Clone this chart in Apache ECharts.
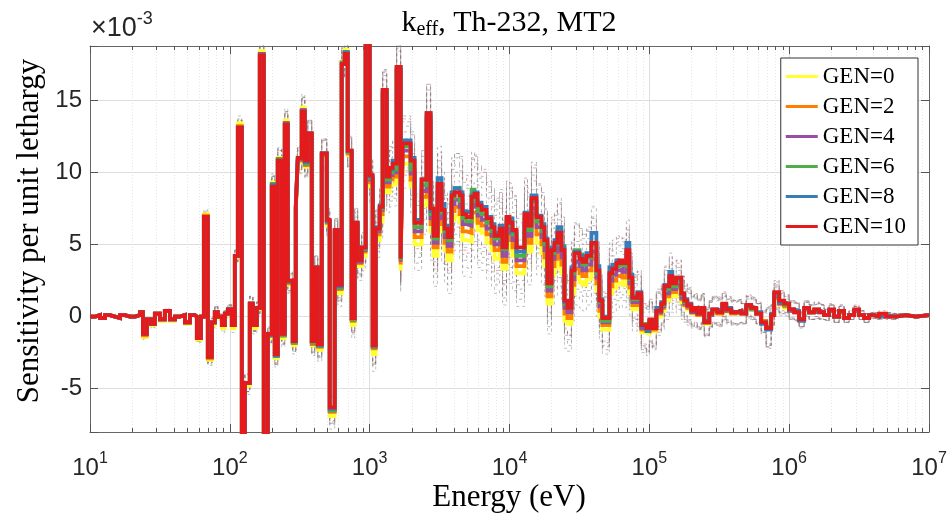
<!DOCTYPE html>
<html>
<head>
<meta charset="utf-8">
<script src="https://cdn.jsdelivr.net/npm/echarts@6/dist/echarts.min.js"></script>
<style>
  html, body { margin: 0; padding: 0; background: #fff; }
  #chart { width: 951px; height: 515px; }
</style>
</head>
<body>
<div id="chart"></div>
<script>
// Energy group boundaries (eV), 200 groups
const energyEdges = [
  10, 10.9, 11.8, 12.8, 13.9, 15.1, 16.4, 17.8, 19.3, 21.0,
  22.8, 23.9, 25.5, 27.3, 29.1, 31.6, 34.3, 37.3, 40.5, 43.9,
  47.7, 51.8, 56.2, 58.1, 62.1, 65.2, 69.6, 74.4, 78.1, 82.1,
  87.7, 92.1, 96.8, 103.3, 108.6, 114.1, 121.8, 128.0, 138.9, 146.0,
  155.9, 163.8, 174.9, 186.8, 199.5, 209.6, 220.2, 235.1, 247.1, 259.6,
  281.8, 296.1, 306.0, 326.8, 343.4, 360.8, 385.3, 404.8, 425.3, 454.2,
  493.2, 517.9, 562.3, 590.8, 631.0, 662.9, 696.4, 743.5, 781.3, 820.9,
  876.6, 936.2, 1000, 1051, 1104, 1179, 1239, 1323, 1389, 1460,
  1559, 1665, 1720, 1963, 2096, 2352, 2554, 2727, 2866, 3060,
  3268, 3434, 3608, 3853, 4048, 4394, 4617, 4932, 5354, 5623,
  5909, 6310, 6849, 7435, 7813, 8483, 8913, 9519, 10000, 10505,
  11220, 12798, 13447, 14360, 15592, 16930, 17783, 18684, 19953, 20961,
  22022, 23513, 24717, 25964, 27730, 29128, 31623, 33219, 35481, 38527,
  41832, 43940, 46163, 51795, 54410, 58113, 61054, 64135, 68489, 71968,
  75612, 82094, 87660, 95195, 1.0e5, 1.0505e5, 1.1220e5, 1.2180e5, 1.2798e5, 1.3895e5,
  1.4598e5, 1.5592e5, 1.6930e5, 1.7783e5, 1.8684e5, 1.9953e5, 2.0961e5, 2.2022e5, 2.3513e5, 2.4717e5,
  2.6827e5, 2.8184e5, 3.0599e5, 3.3219e5, 3.5481e5, 3.8527e5, 4.1832e5, 4.5414e5, 4.9317e5, 5.3538e5,
  5.8113e5, 6.3096e5, 6.8489e5, 7.4350e5, 7.8127e5, 8.4827e5, 9.2101e5, 1.0e6, 1.0857e6, 1.1788e6,
  1.2798e6, 1.3895e6, 1.5087e6, 1.6379e6, 1.7783e6, 1.9307e6, 2.0961e6, 2.2758e6, 2.4717e6, 2.6827e6,
  2.9128e6, 3.1623e6, 3.4334e6, 3.7276e6, 4.0472e6, 4.3940e6, 4.9317e6, 5.8113e6, 6.8489e6, 8.0763e6,
  1.0e7
];

// Sensitivity per unit lethargy per group, in units of 1e-3
const gen0 = [
  0.0, 0.1, -0.1, 0.1, 0.0, -0.1, 0.1, 0.0, 0.0, 0.1,
  0.3, -1.4, -0.3, -0.6, 0.2, -0.3, 0.4, -0.3, 0.0, 0.1,
  -0.5, 0.1, 0.0, -1.6, 0.0, 7.1, -3.0, -0.6, 0.2, -0.1,
  -0.8, 0.1, 0.4, -0.8, 4.1, 13.4, -9.5, -4.8, 0.8, -0.8,
  0.5, 18.4, -9.0, -1.5, 9.3, -2.9, 11.0, -1.5, 13.6, 2.2,
  -2.0, 7.3, 10.7, 14.5, 10.4, 12.5, -2.0, 3.0, -2.3, 11.1,
  6.3, -6.9, 5.6, 1.6, 17.7, 18.5, 11.2, -0.6, 5.9, 3.5,
  4.2, 20.5, 9.0, -2.6, 5.3, 6.6, 15.0, 8.6, 9.1, 9.2,
  16.8, 3.2, 10.6, 9.0, 5.0, 7.7, 13.0, 5.9, 4.2, 7.5,
  5.9, 4.6, 3.9, 6.7, 7.0, 6.5, 5.3, 5.2, 6.6, 6.8,
  6.0, 5.8, 5.1, 4.6, 4.0, 4.4, 3.3, 5.1, 4.7, 4.2,
  3.0, 5.3, 4.5, 6.5, 5.1, 4.4, 3.5, 0.9, 2.9, 3.4,
  4.1, 3.0, -0.3, -0.5, 1.6, 2.7, 2.4, 2.2, 2.6, 3.4,
  1.8, 0.0, -0.9, 1.6, 2.0, 2.3, 2.4, 2.2, 2.9, 1.6,
  0.5, 0.8, -1.1, -1.2, -0.6, -1.0, 0.0, 0.4, 1.1, 1.6,
  1.4, 1.7, 1.0, 0.7, 0.5, 0.2, 0.3, 0.1, 0.3, -0.5,
  0.1, 0.3, 0.2, 0.5, 0.3, 0.2, 0.3, 0.2, 0.5, 0.4,
  0.2, -0.3, -0.6, 0.1, 1.2, 0.8, 0.6, 0.4, 0.3, -0.2,
  0.5, 0.3, 0.4, 0.3, 0.1, 0.4, 0.0, 0.3, -0.1, 0.1,
  0.4, 0.1, -0.1, 0.1, 0.0, 0.1, 0.0, 0.1, 0.0, 0.1
];
const gen2 = [
  0.0, 0.1, -0.1, 0.1, 0.0, -0.1, 0.1, 0.0, 0.0, 0.1,
  0.3, -1.3, -0.2, -0.5, 0.2, -0.2, 0.4, -0.2, 0.0, 0.1,
  -0.4, 0.1, 0.0, -1.5, 0.0, 7.0, -2.9, -0.4, 0.3, 0.0,
  -0.6, 0.2, 0.5, -0.6, 4.2, 13.2, -9.5, -4.6, 0.9, -0.6,
  0.6, 18.2, -9.0, -1.3, 9.1, -2.7, 10.9, -1.3, 13.4, 2.3,
  -1.8, 7.4, 10.8, 14.3, 10.5, 12.6, -1.9, 3.2, -2.1, 11.2,
  6.5, -6.6, 5.8, 1.9, 17.6, 18.3, 11.3, -0.3, 6.2, 3.7,
  4.5, 20.5, 9.3, -2.2, 5.7, 7.1, 15.3, 9.0, 9.5, 9.7,
  17.0, 3.6, 11.1, 9.5, 5.5, 8.3, 13.4, 6.4, 4.8, 8.1,
  6.4, 5.1, 4.5, 7.3, 7.6, 7.1, 5.9, 5.8, 7.2, 7.3,
  6.5, 6.3, 5.7, 5.1, 4.6, 5.0, 3.8, 5.7, 5.3, 4.8,
  3.5, 5.9, 5.1, 7.1, 5.7, 5.0, 4.1, 1.4, 3.5, 4.0,
  4.7, 3.6, 0.2, -0.1, 2.2, 3.3, 3.0, 2.8, 3.2, 4.0,
  2.3, 0.4, -0.6, 2.1, 2.5, 2.8, 2.9, 2.7, 3.4, 2.0,
  0.8, 1.1, -0.9, -1.0, -0.5, -0.9, 0.2, 0.6, 1.4, 2.0,
  1.7, 2.0, 1.2, 0.8, 0.6, 0.3, 0.4, 0.1, 0.4, -0.4,
  0.1, 0.4, 0.2, 0.6, 0.4, 0.2, 0.3, 0.2, 0.6, 0.5,
  0.2, -0.3, -0.7, 0.1, 1.3, 0.9, 0.7, 0.4, 0.3, -0.2,
  0.5, 0.3, 0.4, 0.3, 0.1, 0.4, 0.0, 0.3, -0.1, 0.1,
  0.4, 0.1, -0.1, 0.1, 0.0, 0.1, 0.0, 0.1, 0.0, 0.1
];
const gen4 = [
  0.0, 0.1, -0.1, 0.1, 0.0, -0.1, 0.1, 0.0, 0.0, 0.1,
  0.3, -1.2, -0.2, -0.5, 0.2, -0.2, 0.4, -0.2, 0.0, 0.1,
  -0.4, 0.1, 0.0, -1.5, 0.0, 6.9, -2.8, -0.4, 0.3, 0.0,
  -0.6, 0.2, 0.5, -0.6, 4.2, 13.1, -9.5, -4.6, 0.9, -0.6,
  0.6, 18.2, -9.0, -1.3, 9.1, -2.7, 10.9, -1.3, 13.4, 2.4,
  -1.8, 7.5, 10.9, 14.3, 10.6, 12.7, -1.8, 3.3, -2.0, 11.3,
  6.6, -6.5, 5.9, 2.0, 17.6, 18.3, 11.4, -0.2, 6.3, 3.8,
  4.6, 20.5, 9.5, -2.1, 5.9, 7.4, 15.5, 9.3, 9.8, 10.0,
  17.1, 3.8, 11.5, 9.9, 5.9, 8.7, 13.7, 6.8, 5.1, 8.6,
  6.8, 5.5, 4.9, 7.8, 8.1, 7.6, 6.4, 6.3, 7.6, 7.8,
  7.0, 6.7, 6.1, 5.6, 5.0, 5.4, 4.2, 6.1, 5.8, 5.3,
  3.9, 6.3, 5.6, 7.5, 6.2, 5.5, 4.6, 1.8, 4.0, 4.5,
  5.1, 4.1, 0.6, 0.3, 2.6, 3.8, 3.5, 3.2, 3.6, 4.5,
  2.7, 0.7, -0.4, 2.5, 2.9, 3.2, 3.3, 3.1, 3.9, 2.3,
  1.0, 1.3, -0.8, -0.9, -0.4, -0.8, 0.3, 0.7, 1.6, 2.3,
  1.9, 2.2, 1.3, 0.9, 0.7, 0.3, 0.5, 0.2, 0.5, -0.4,
  0.1, 0.4, 0.3, 0.7, 0.4, 0.3, 0.3, 0.2, 0.7, 0.5,
  0.2, -0.4, -0.8, 0.1, 1.4, 0.9, 0.8, 0.4, 0.3, -0.2,
  0.5, 0.3, 0.4, 0.3, 0.1, 0.4, 0.0, 0.3, -0.1, 0.1,
  0.4, 0.1, -0.1, 0.1, 0.0, 0.1, 0.0, 0.1, 0.0, 0.1
];
const gen6 = [
  0.0, 0.1, -0.1, 0.1, 0.0, -0.1, 0.1, 0.0, 0.0, 0.1,
  0.3, -1.2, -0.2, -0.5, 0.2, -0.2, 0.4, -0.2, 0.0, 0.1,
  -0.4, 0.1, 0.0, -1.5, 0.0, 6.9, -2.8, -0.4, 0.3, 0.0,
  -0.6, 0.2, 0.5, -0.6, 4.2, 13.1, -9.5, -4.6, 0.9, -0.6,
  0.6, 18.1, -9.0, -1.3, 9.2, -2.7, 10.9, -1.3, 13.3, 2.4,
  -1.8, 7.6, 11.0, 14.2, 10.6, 12.6, -1.8, 3.4, -2.0, 11.2,
  6.6, -6.5, 5.9, 2.0, 17.6, 18.3, 11.4, -0.2, 6.4, 3.9,
  4.7, 20.5, 9.6, -2.1, 6.1, 7.5, 15.6, 9.5, 10.0, 10.2,
  17.2, 3.9, 11.8, 10.2, 6.2, 9.1, 13.9, 7.1, 5.4, 9.0,
  7.2, 5.9, 5.3, 8.2, 8.9, 8.0, 6.8, 6.6, 8.8, 8.0,
  7.3, 7.1, 6.5, 5.9, 5.4, 5.7, 4.7, 6.5, 6.3, 5.7,
  4.2, 6.7, 6.0, 8.0, 6.6, 5.9, 5.0, 2.1, 4.4, 5.0,
  5.9, 4.9, 0.9, 0.6, 3.0, 4.6, 4.3, 3.6, 4.1, 5.0,
  3.0, 1.0, -0.3, 2.9, 3.4, 3.5, 3.6, 3.5, 4.4, 2.6,
  1.2, 1.4, -0.5, -0.8, -0.3, -0.6, 0.4, 0.8, 1.9, 2.6,
  2.1, 2.5, 1.5, 1.0, 0.8, 0.4, 0.5, 0.2, 0.5, -0.4,
  0.2, 0.4, 0.3, 0.8, 0.5, 0.3, 0.4, 0.2, 0.7, 0.5,
  0.2, -0.4, -0.7, 0.1, 1.5, 1.0, 0.8, 0.5, 0.3, -0.2,
  0.5, 0.3, 0.5, 0.3, 0.1, 0.4, 0.0, 0.3, -0.1, 0.1,
  0.4, 0.1, -0.1, 0.1, 0.0, 0.1, 0.0, 0.1, 0.0, 0.1
];
const gen8 = [
  0.0, 0.1, -0.1, 0.1, 0.0, -0.1, 0.1, 0.0, 0.0, 0.1,
  0.3, -1.2, -0.2, -0.5, 0.2, -0.2, 0.4, -0.2, 0.0, 0.1,
  -0.4, 0.1, 0.0, -1.5, 0.0, 6.9, -2.8, -0.4, 0.3, 0.0,
  -0.6, 0.2, 0.5, -0.6, 4.2, 13.1, -9.5, -4.6, 0.9, -0.6,
  0.6, 18.1, -9.0, -1.3, 9.1, -2.7, 10.8, -1.2, 13.3, 2.4,
  -1.7, 7.6, 11.0, 14.2, 10.7, 12.7, -1.7, 3.4, -2.0, 11.3,
  6.6, -6.4, 6.0, 2.1, 17.5, 18.3, 11.5, -0.1, 6.5, 4.0,
  4.8, 20.5, 9.7, -2.0, 6.2, 7.7, 15.7, 9.9, 10.2, 10.8,
  17.3, 4.1, 12.2, 11.0, 6.7, 9.5, 14.1, 7.3, 5.9, 9.6,
  7.8, 6.3, 5.7, 8.6, 8.9, 8.6, 7.3, 7.2, 8.4, 8.6,
  7.9, 7.6, 6.9, 6.4, 5.8, 6.3, 5.0, 6.8, 6.8, 5.9,
  4.5, 7.2, 6.6, 8.4, 7.0, 6.4, 5.4, 2.4, 4.8, 5.3,
  6.2, 4.8, 1.0, 0.7, 3.4, 4.5, 4.2, 3.9, 4.4, 5.8,
  3.5, 1.2, 0.0, 3.4, 3.6, 3.9, 3.8, 3.9, 5.1, 2.9,
  1.4, 1.7, -0.7, -1.0, -0.3, -0.7, 0.6, 1.0, 2.2, 3.1,
  2.5, 2.7, 1.6, 1.2, 0.9, 0.5, 0.6, 0.3, 0.6, -0.3,
  0.2, 0.5, 0.4, 0.8, 0.6, 0.3, 0.4, 0.3, 0.7, 0.6,
  0.3, -0.5, -0.9, 0.2, 1.6, 1.0, 0.9, 0.5, 0.4, -0.3,
  0.6, 0.3, 0.4, 0.3, 0.1, 0.4, 0.0, 0.4, -0.1, 0.1,
  0.4, 0.1, -0.1, 0.1, 0.0, 0.1, 0.0, 0.1, 0.0, 0.1
];
const gen10 = [
  0.0, 0.1, -0.1, 0.1, 0.0, -0.1, 0.1, 0.0, 0.0, 0.1,
  0.3, -1.2, -0.2, -0.5, 0.2, -0.2, 0.4, -0.2, 0.0, 0.1,
  -0.4, 0.1, 0.0, -1.5, 0.0, 6.9, -2.8, -0.4, 0.3, 0.0,
  -0.6, 0.2, 0.5, -0.6, 4.2, 13.1, -9.5, -4.6, 0.9, -0.6,
  0.6, 18.1, -9.0, -1.2, 9.0, -2.6, 10.8, -1.2, 13.3, 2.5,
  -1.7, 7.6, 11.0, 14.2, 10.8, 12.7, -1.7, 3.4, -1.9, 11.3,
  6.7, -6.3, 6.0, 2.2, 17.5, 18.2, 11.5, -0.1, 6.5, 3.9,
  4.8, 20.5, 9.8, -2.0, 6.1, 7.6, 15.7, 9.7, 10.3, 10.6,
  17.3, 4.0, 12.0, 10.8, 6.5, 9.5, 14.1, 7.5, 5.6, 9.2,
  7.4, 6.1, 5.5, 8.4, 8.6, 8.4, 7.1, 6.9, 8.3, 8.5,
  7.7, 7.4, 6.8, 6.2, 5.6, 6.1, 4.8, 6.9, 6.5, 6.0,
  4.8, 7.1, 6.3, 8.2, 6.9, 6.2, 5.3, 2.3, 4.6, 5.1,
  5.8, 4.6, 1.1, 0.6, 3.2, 4.4, 4.0, 3.8, 4.2, 5.1,
  3.2, 1.1, -0.1, 3.0, 3.3, 3.7, 3.9, 3.7, 4.6, 2.7,
  1.3, 1.6, -0.6, -0.8, -0.2, -0.8, 0.4, 0.9, 2.1, 2.8,
  2.3, 2.7, 1.6, 1.1, 0.8, 0.4, 0.6, 0.2, 0.6, -0.4,
  0.2, 0.5, 0.3, 0.9, 0.5, 0.3, 0.4, 0.2, 0.8, 0.6,
  0.2, -0.4, -0.8, 0.1, 1.7, 1.1, 0.9, 0.5, 0.3, -0.2,
  0.6, 0.3, 0.5, 0.3, 0.1, 0.5, 0.0, 0.4, -0.1, 0.1,
  0.5, 0.1, -0.1, 0.1, 0.0, 0.2, 0.0, 0.1, 0.0, 0.1
];

// One-standard-deviation uncertainty per group, in units of 1e-3
const sigma = [
  0.1, 0.1, 0.1, 0.1, 0.1, 0.1, 0.1, 0.1, 0.1, 0.1,
  0.1, 0.2, 0.1, 0.2, 0.1, 0.1, 0.1, 0.1, 0.1, 0.1,
  0.1, 0.1, 0.1, 0.2, 0.1, 0.3, 0.4, 0.3, 0.4, 0.2,
  0.3, 0.2, 0.3, 0.3, 0.4, 0.5, 0.6, 0.6, 0.5, 0.4,
  0.4, 0.6, 0.7, 0.5, 0.6, 0.6, 0.7, 0.6, 0.8, 0.6,
  0.6, 0.7, 0.8, 0.9, 0.8, 0.9, 0.7, 0.8, 0.8, 1.0,
  0.8, 0.9, 0.8, 0.9, 1.0, 1.1, 1.0, 0.9, 1.0, 1.0,
  1.0, 1.2, 1.1, 1.2, 1.2, 1.3, 1.4, 1.4, 1.5, 1.5,
  1.6, 1.5, 1.7, 1.8, 1.8, 2.0, 2.0, 2.0, 2.1, 2.2,
  2.2, 2.3, 2.3, 2.4, 2.4, 2.5, 2.5, 2.5, 2.6, 2.6,
  2.6, 2.6, 2.5, 2.5, 2.4, 2.5, 2.5, 2.5, 2.4, 2.4,
  2.3, 2.4, 2.3, 2.3, 2.2, 2.2, 2.1, 2.1, 2.1, 2.0,
  2.0, 2.0, 1.9, 1.9, 1.9, 1.9, 1.8, 1.8, 1.8, 1.8,
  1.8, 1.7, 1.7, 1.7, 1.7, 1.7, 1.6, 1.6, 1.6, 1.5,
  1.5, 1.5, 1.4, 1.5, 1.4, 1.3, 1.3, 1.3, 1.3, 1.3,
  1.2, 1.2, 1.2, 1.1, 1.1, 1.0, 1.0, 1.0, 1.0, 0.9,
  0.9, 0.9, 0.9, 0.8, 0.8, 0.8, 0.8, 0.7, 0.7, 0.7,
  0.7, 0.7, 1.3, 0.7, 0.8, 0.7, 0.6, 0.6, 0.6, 0.5,
  0.5, 0.5, 0.5, 0.5, 0.4, 0.4, 0.4, 0.4, 0.3, 0.3,
  0.3, 0.3, 0.3, 0.2, 0.2, 0.2, 0.2, 0.1, 0.1, 0.1
];

const seriesNames = ['GEN=0', 'GEN=2', 'GEN=4', 'GEN=6', 'GEN=8', 'GEN=10'];
const seriesValues = [gen0, gen2, gen4, gen6, gen8, gen10];
const seriesColors = ['#FFFF33', '#FF7F00', '#984EA3', '#4DAF4A', '#377EB8', '#E41A1C'];
const bandColors = ['#8c8c8c', '#7a7a7a', '#7a7a7a', '#7a7a7a', '#6d7f96', '#c25a5a'];

const SERIF = "'Liberation Serif', 'DejaVu Serif', serif";
const SANS = "'Liberation Sans', Arial, sans-serif";
const INK = '#262626';

// Stair points: each group value starts at its lower edge, the last one is closed at the top edge
function stairs(values, sign) {
  const pts = values.map((v, i) => [energyEdges[i], v + sign * sigma[i]]);
  const n = values.length;
  pts.push([energyEdges[n], values[n - 1] + sign * sigma[n - 1]]);
  return pts;
}

const series = [];
// dashed one-sigma bounds drawn beneath the curves
seriesValues.forEach((vals, k) => {
  [1, -1].forEach(sign => {
    series.push({
      type: 'line', name: seriesNames[k] + (sign > 0 ? ' +σ' : ' -σ'),
      data: stairs(vals, sign), step: 'end', symbol: 'none', silent: true,
      lineStyle: { color: bandColors[k], width: 0.8, type: [3, 3], opacity: 0.65 },
      z: 2, animation: false
    });
  });
});
seriesValues.forEach((vals, k) => {
  series.push({
    type: 'line', name: seriesNames[k],
    data: stairs(vals, 0), step: 'end', symbol: 'none',
    itemStyle: { color: seriesColors[k] },
    lineStyle: { color: seriesColors[k], width: 3.8, join: 'miter' },
    z: 3, animation: false
  });
});

const chart = echarts.init(document.getElementById('chart'), null, { renderer: 'canvas' });

const tickStyle = { show: true, inside: true, length: 8, lineStyle: { color: '#555', width: 1 } };
const minorTickStyle = { show: true, splitNumber: 9, length: 4, lineStyle: { color: '#555', width: 1 } };
const boxLine = { show: true, onZero: false, lineStyle: { color: '#666', width: 1 } };

chart.setOption({
  animation: false,
  backgroundColor: '#fff',
  grid: { left: 90, right: 22, top: 46, bottom: 83, containLabel: false },
  xAxis: [
    {
      type: 'log', logBase: 10, min: 10, max: 1e7,
      axisLine: boxLine, axisTick: tickStyle, minorTick: minorTickStyle,
      splitLine: { show: true, lineStyle: { color: '#dedede', width: 1 } },
      minorSplitLine: { show: true, lineStyle: { color: '#e6e6e6', width: 1, type: [1, 2] } },
      axisLabel: {
        margin: 19,
        formatter: v => '{b|10}{s|' + Math.round(Math.log10(v)) + '}',
        rich: {
          b: { fontFamily: SANS, fontSize: 24, color: INK },
          s: { fontFamily: SANS, fontSize: 16, color: INK, padding: [0, 0, 18, 0] }
        }
      }
    },
    {
      type: 'log', logBase: 10, min: 10, max: 1e7, position: 'top',
      axisLine: boxLine, axisTick: tickStyle, minorTick: minorTickStyle,
      splitLine: { show: false }, axisLabel: { show: false }
    }
  ],
  yAxis: [
    {
      type: 'value', min: -8, max: 18.75, splitNumber: 5,
      axisLine: boxLine, axisTick: tickStyle,
      splitLine: { show: true, lineStyle: { color: '#dedede', width: 1 } },
      axisLabel: {
        margin: 8, fontFamily: SANS, fontSize: 24, color: INK,
        formatter: v => (Math.abs(v % 5) < 1e-9 ? String(v) : '')
      }
    },
    {
      type: 'value', min: -8, max: 18.75, splitNumber: 5, position: 'right',
      axisLine: boxLine, axisTick: tickStyle,
      splitLine: { show: false }, axisLabel: { show: false }
    }
  ],
  legend: {
    data: seriesNames,
    orient: 'vertical', right: 33, top: 58,
    icon: 'rect', itemWidth: 32, itemHeight: 3, itemGap: 7,
    padding: [7, 8, 7, 5],
    backgroundColor: '#fff', borderColor: '#333', borderWidth: 1, borderRadius: 0,
    textStyle: { fontFamily: SERIF, fontSize: 23, lineHeight: 22, color: '#000', padding: [0, 4, 0, 0] }
  },
  graphic: [
    {
      type: 'text', x: 509, y: 23, silent: true,
      style: {
        text: '{k|k}{sub|eff}{t|, Th-232, MT2}',
        align: 'center', verticalAlign: 'middle',
        rich: {
          k: { fontFamily: SERIF, fontSize: 30, fill: '#000' },
          sub: { fontFamily: SERIF, fontSize: 20, fill: '#000', padding: [13, 0, 0, 0] },
          t: { fontFamily: SERIF, fontSize: 30, fill: '#000' }
        }
      }
    },
    {
      type: 'text', x: 509, y: 498, silent: true,
      style: { text: 'Energy (eV)', align: 'center', verticalAlign: 'middle', fontFamily: SERIF, fontSize: 31, fill: '#000' }
    },
    {
      type: 'text', x: 30, y: 231, rotation: Math.PI / 2, silent: true,
      style: { text: 'Sensitivity per unit lethargy', align: 'center', verticalAlign: 'middle', fontFamily: SERIF, fontSize: 31, fill: '#000' }
    },
    {
      type: 'text', x: 91, y: 29, silent: true,
      style: {
        text: '{b|\u00d710}{s|-3}', align: 'left', verticalAlign: 'middle',
        rich: {
          b: { fontFamily: SANS, fontSize: 27, fill: INK },
          s: { fontFamily: SANS, fontSize: 18, fill: INK, padding: [0, 0, 19, 0] }
        }
      }
    }
  ],
  series: series
});
</script>
</body>
</html>
